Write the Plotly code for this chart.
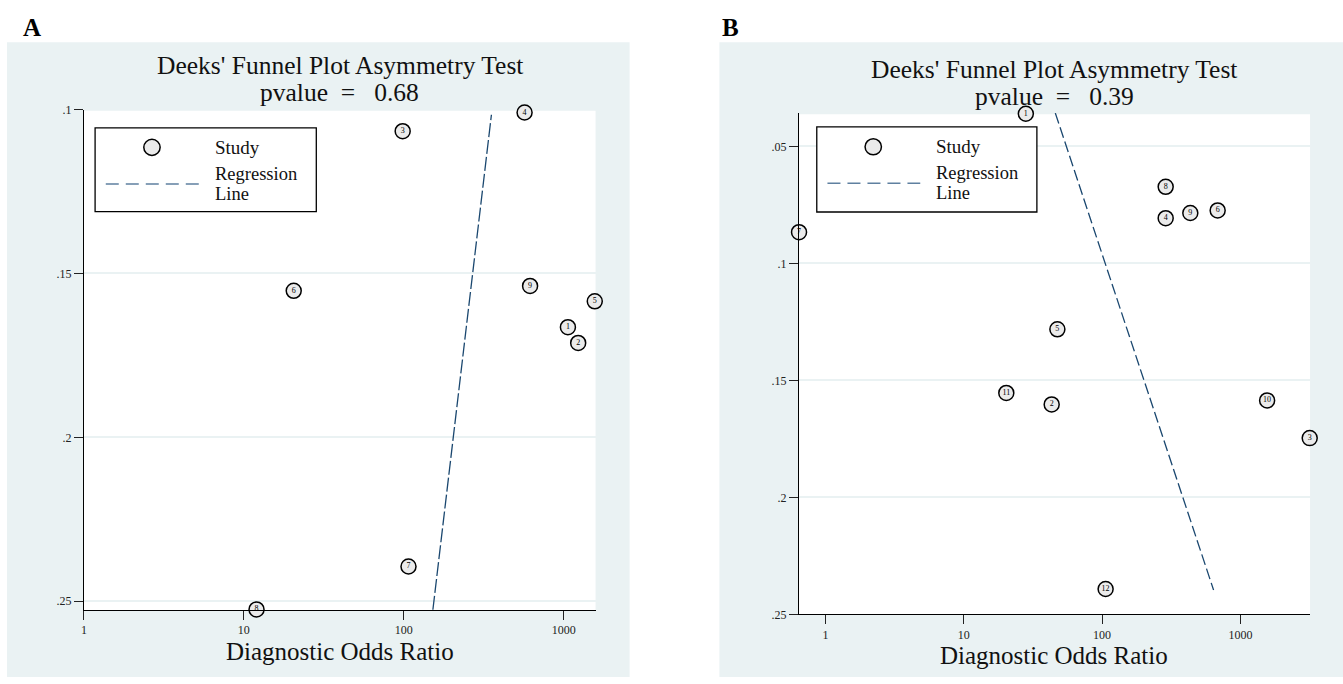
import plotly.graph_objects as go

# ---------------- data ----------------
A_labels = ['1', '2', '3', '4', '5', '6', '7', '8', '9']
A_dor = [1062, 1231, 98.4, 569, 1563, 20.5, 107, 12.0, 616]
A_inv_ess = [0.1664, 0.1712, 0.1066, 0.1009, 0.1585, 0.1553, 0.2394, 0.2525, 0.1538]
A_reg_dor = [152, 353]
A_reg_inv_ess = [0.2526, 0.1016]
A_pvalue = '0.68'

B_labels = ['1', '2', '3', '4', '5', '6', '7', '8', '9', '10', '11', '12']
B_dor = [28.1, 43.2, 3165, 288, 47.5, 684, 0.645, 288, 434, 1558, 20.3, 106]
B_inv_ess = [0.0361, 0.1603, 0.1747, 0.0807, 0.1282, 0.0774, 0.0867, 0.0673,
             0.0785, 0.1586, 0.1554, 0.2392]
B_reg_dor = [45.9, 639]
B_reg_inv_ess = [0.0358, 0.2396]
B_pvalue = '0.39'

x_tickvals = [1, 10, 100, 1000]
x_ticktext = ['1', '10', '100', '1000']
A_ytickvals = [0.1, 0.15, 0.2, 0.25]
A_yticktext = ['.1', '.15', '.2', '.25']
B_ytickvals = [0.05, 0.1, 0.15, 0.2, 0.25]
B_yticktext = ['.05', '.1', '.15', '.2', '.25']

# ---------------- styling ----------------
W, H = 1343, 684
SERIF = 'Liberation Serif'
BG = '#eaf2f3'
NAVY = '#1a476f'
MFILL = '#ebebeb'


def px(x):
    return x / W


def py(y):
    return 1 - y / H


fig = go.Figure()

# markers
for lab, xs, ys, xa, ya in [(A_labels, A_dor, A_inv_ess, 'x', 'y'),
                            (B_labels, B_dor, B_inv_ess, 'x2', 'y2')]:
    fig.add_trace(go.Scatter(
        x=xs, y=ys, text=lab, mode='markers+text', textposition='middle center',
        textfont=dict(family=SERIF, size=8, color='black'),
        marker=dict(symbol='circle', size=15, color=MFILL,
                    line=dict(color='black', width=1.5)),
        cliponaxis=False, showlegend=False, xaxis=xa, yaxis=ya, hoverinfo='skip'))

# regression lines
for xs, ys, xa, ya, dash in [(A_reg_dor, A_reg_inv_ess, 'x', 'y', '14px,3px'),
                             (B_reg_dor, B_reg_inv_ess, 'x2', 'y2', '11px,4px')]:
    fig.add_trace(go.Scatter(
        x=xs, y=ys, mode='lines',
        line=dict(color=NAVY, width=1.3, dash=dash),
        showlegend=False, xaxis=xa, yaxis=ya, hoverinfo='skip'))

# panel geometry (pixels)
A_plot = dict(l=81.1, r=593.9, t=104.7, b=615.7)
B_plot = dict(l=797.6, r=1310.0, t=108.3, b=620.0)

axis_common = dict(showline=True, linecolor='black', linewidth=1, mirror=False,
                   ticks='outside', ticklen=9, tickwidth=1, tickcolor='#222',
                   tickfont=dict(family=SERIF, size=12, color='#222'),
                   zeroline=False)

fig.update_layout(
    width=W, height=H, autosize=False,
    margin=dict(l=0, r=0, t=0, b=0),
    paper_bgcolor='white', plot_bgcolor='white',
    showlegend=False,
    xaxis=dict(domain=[px(A_plot['l']), px(A_plot['r'])], anchor='y', type='log',
               range=[0, 3.199], tickvals=x_tickvals, ticktext=x_ticktext,
               showgrid=False, **axis_common),
    yaxis=dict(domain=[py(A_plot['b']), py(A_plot['t'])], anchor='x',
               range=[0.2527, 0.1], tickvals=A_ytickvals, ticktext=A_yticktext,
               showgrid=True, gridcolor=BG, gridwidth=2, **axis_common),
    xaxis2=dict(domain=[px(B_plot['l']), px(B_plot['r'])], anchor='y2', type='log',
                range=[-0.192, 3.503], tickvals=x_tickvals, ticktext=x_ticktext,
                showgrid=False, **axis_common),
    yaxis2=dict(domain=[py(B_plot['b']), py(B_plot['t'])], anchor='x2',
                range=[0.25, 0.0358], tickvals=B_ytickvals, ticktext=B_yticktext,
                showgrid=True, gridcolor=BG, gridwidth=2, **axis_common),
)

shapes = []
# gray panel backgrounds
for (x0, x1) in [(4, 628), (718, 1343)]:
    shapes.append(dict(type='rect', xref='paper', yref='paper', layer='below',
                       x0=px(x0), x1=px(x1), y0=py(684), y1=py(36),
                       fillcolor=BG, line=dict(width=0)))
# white plot regions
for p in [A_plot, B_plot]:
    shapes.append(dict(type='rect', xref='paper', yref='paper', layer='below',
                       x0=px(p['l']), x1=px(p['r']), y0=py(p['b']), y1=py(p['t'] + 1.3),
                       fillcolor='white', line=dict(width=0)))

annotations = []


def ann(text, x, y, size, xanchor='center', bold=False, color='#111'):
    if bold:
        text = '<b>' + text + '</b>'
    annotations.append(dict(text=text, x=px(x), y=py(y), xref='paper', yref='paper',
                            xanchor=xanchor, yanchor='middle', showarrow=False,
                            borderpad=0,
                            font=dict(family=SERIF, size=size, color=color)))


NB = '\u00a0'
for (cx, ty, pv, lab, labx, xt_y,
     leg) in [(337.5, 60, A_pvalue, 'A', 29, 658,
               dict(l=92.3, r=314, t=123.3, b=209, cx=149.3, cy=143.3,
                    tx=211.7, d0=103, d1=197, dy=180.7)),
              (1053.8, 63.5, B_pvalue, 'B', 729, 662,
               dict(l=815.6, r=1036.2, t=122.3, b=209.3, cx=872.2, cy=142.7,
                    tx=933.7, d0=826.3, d1=919.3, dy=180))]:
    ann("Deeks' Funnel Plot Asymmetry Test", cx, ty, 25.5)
    ann('pvalue' + NB * 2 + '=' + NB * 3 + pv, cx, ty + 27.5, 25.5)
    ann(lab, labx, 21, 25, bold=True, color='black')
    ann('Diagnostic Odds Ratio', cx, xt_y, 25)
    # legend box
    shapes.append(dict(type='rect', xref='paper', yref='paper', layer='above',
                       x0=px(leg['l']), x1=px(leg['r']), y0=py(leg['b']), y1=py(leg['t']),
                       fillcolor='white', line=dict(color='black', width=1.3)))
    r = 8.2
    shapes.append(dict(type='circle', xref='paper', yref='paper', layer='above',
                       x0=px(leg['cx'] - r), x1=px(leg['cx'] + r),
                       y0=py(leg['cy'] + r), y1=py(leg['cy'] - r),
                       fillcolor=MFILL, line=dict(color='black', width=1.5)))
    shapes.append(dict(type='line', xref='paper', yref='paper', layer='above',
                       x0=px(leg['d0']), x1=px(leg['d1']), y0=py(leg['dy']), y1=py(leg['dy']),
                       line=dict(color='#5f80a0', width=1.6, dash='13px,7px')))
    ann('Study', leg['tx'], leg['cy'], 19, xanchor='left')
    ann('Regression', leg['tx'], leg['t'] + 47.5, 18.5, xanchor='left')
    ann('Line', leg['tx'], leg['t'] + 67.5, 18.5, xanchor='left')

fig.update_layout(shapes=shapes, annotations=annotations)

fig.write_html('out.html')
